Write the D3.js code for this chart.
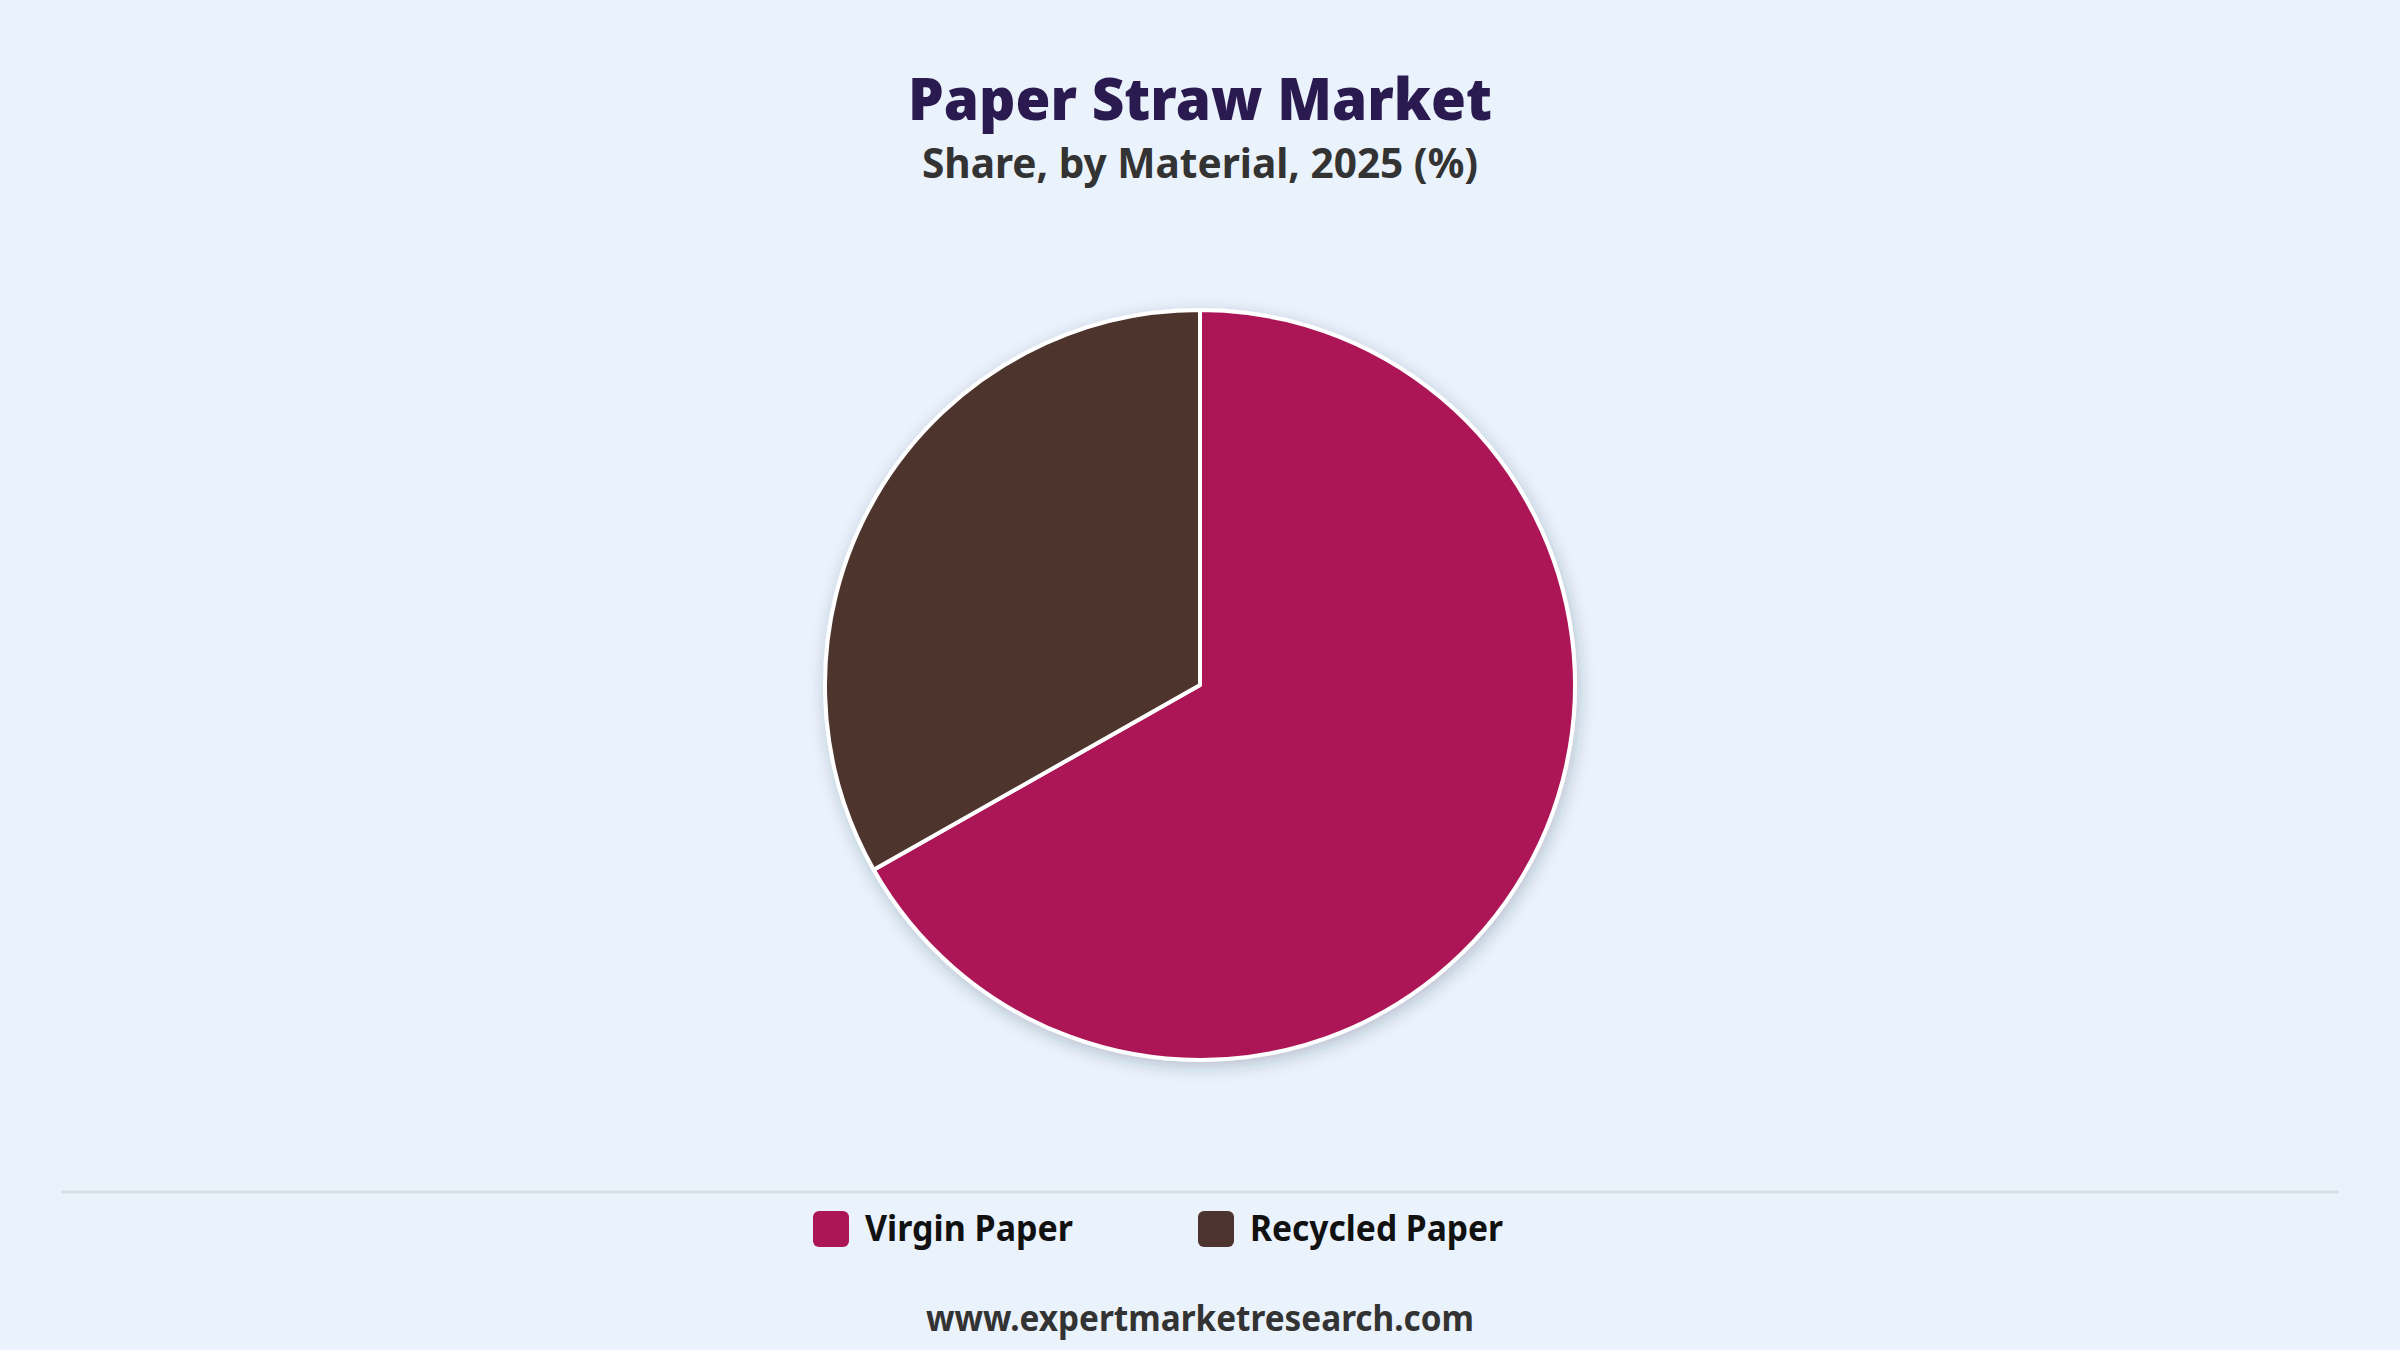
<!DOCTYPE html>
<html>
<head>
<meta charset="utf-8">
<script src="https://cdn.jsdelivr.net/npm/d3@7"></script>
<style>
  html, body { margin: 0; padding: 0; background: #eaf2fb; }
  svg { display: block; }
</style>
</head>
<body>
<svg id="chart"></svg>
<script>
const categories = ['Virgin Paper', 'Recycled Paper'];
const shares = [66.8, 33.2];
const colours = ['#ad1656', '#4e342e'];

const title = 'Paper Straw Market';
const subtitle = 'Share, by Material, 2025 (%)';
const source = 'www.expertmarketresearch.com';

const width = 2400;
const height = 1350;
const font = '"Noto Sans", "Open Sans", sans-serif';

const svg = d3.select('#chart').attr('width', width).attr('height', height);

svg.append('rect').attr('width', width).attr('height', height).attr('fill', '#eaf2fb');

// soft shadow under the pie
const defs = svg.append('defs');
const shadow = defs.append('filter').attr('id', 'shadow')
  .attr('x', '-20%').attr('y', '-20%').attr('width', '140%').attr('height', '140%');
shadow.append('feDropShadow')
  .attr('dx', 2).attr('dy', 5).attr('stdDeviation', 8)
  .attr('flood-color', '#203050').attr('flood-opacity', 0.25);

// titles
svg.append('text')
  .attr('x', width / 2).attr('y', 120)
  .attr('text-anchor', 'middle')
  .attr('font-family', font).attr('font-weight', 900)
  .attr('font-size', 58).attr('fill', '#2b1a4f')
  .attr('textLength', 584).attr('lengthAdjust', 'spacingAndGlyphs')
  .text(title);

svg.append('text')
  .attr('x', width / 2).attr('y', 178)
  .attr('text-anchor', 'middle')
  .attr('font-family', font).attr('font-weight', 700)
  .attr('font-size', 41).attr('fill', '#333333')
  .attr('textLength', 556).attr('lengthAdjust', 'spacingAndGlyphs')
  .text(subtitle);

// pie
const cx = 1200, cy = 685, radius = 375;

const pie = d3.pie().sort(null).value((d, i) => shares[i]);
const arc = d3.arc().innerRadius(0).outerRadius(radius);
const colour = d3.scaleOrdinal().domain(categories).range(colours);

const g = svg.append('g')
  .attr('transform', `translate(${cx},${cy})`)
  .attr('filter', 'url(#shadow)');

g.selectAll('path')
  .data(pie(categories))
  .join('path')
  .attr('d', arc)
  .attr('fill', (d) => colour(d.data))
  .attr('stroke', '#ffffff')
  .attr('stroke-width', 4)
  .attr('stroke-linejoin', 'round');

// legend separator
svg.append('line')
  .attr('x1', 61).attr('x2', 2339)
  .attr('y1', 1192).attr('y2', 1192)
  .attr('stroke', '#dcdfe3').attr('stroke-width', 3);

// legend
const legendX = d3.scaleOrdinal().domain(categories).range([813, 1198]);
const legend = svg.append('g')
  .selectAll('g')
  .data(categories)
  .join('g')
  .attr('transform', (d) => `translate(${legendX(d)},1211)`);

legend.append('rect')
  .attr('width', 36).attr('height', 36)
  .attr('rx', 6).attr('ry', 6)
  .attr('fill', (d) => colour(d));

legend.append('text')
  .attr('x', 52).attr('y', 30)
  .attr('font-family', font).attr('font-weight', 700)
  .attr('font-size', 36).attr('fill', '#111111')
  .attr('textLength', (d, i) => [208, 253][i])
  .attr('lengthAdjust', 'spacingAndGlyphs')
  .text((d) => d);

// source
svg.append('text')
  .attr('x', width / 2).attr('y', 1331)
  .attr('text-anchor', 'middle')
  .attr('font-family', font).attr('font-weight', 700)
  .attr('font-size', 36).attr('fill', '#333333')
  .attr('textLength', 548).attr('lengthAdjust', 'spacingAndGlyphs')
  .text(source);
</script>
</body>
</html>
